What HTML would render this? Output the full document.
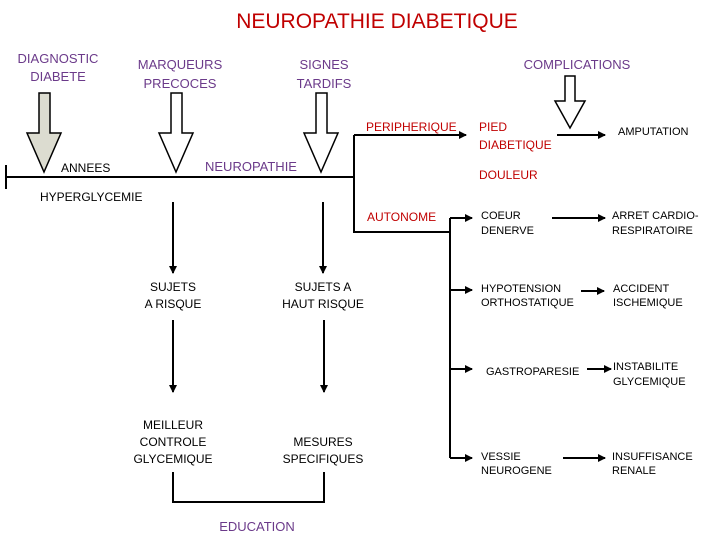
<!DOCTYPE html>
<html><head><meta charset="utf-8"><style>
body{margin:0;width:720px;height:540px;background:#fff;overflow:hidden}
svg text{font-family:"Liberation Sans",sans-serif}
</style></head><body>
<svg width="720" height="540" viewBox="0 0 720 540" xmlns="http://www.w3.org/2000/svg">
<defs><marker id="a" markerWidth="8" markerHeight="8" refX="7" refY="4" orient="auto" markerUnits="userSpaceOnUse"><path d="M0,0 L8,4 L0,8 z" fill="#000"/></marker></defs>
<text x="377" y="28" font-size="21" fill="#c00000" text-anchor="middle">NEUROPATHIE DIABETIQUE</text>
<g fill="#6b3a8a" font-size="13" text-anchor="middle">
<text x="58" y="63">DIAGNOSTIC</text><text x="58" y="81">DIABETE</text>
<text x="180" y="69">MARQUEURS</text><text x="180" y="88">PRECOCES</text>
<text x="324" y="69">SIGNES</text><text x="324" y="88">TARDIFS</text>
<text x="577" y="69">COMPLICATIONS</text>
<text x="251" y="171">NEUROPATHIE</text>
<text x="257" y="531">EDUCATION</text>
</g>
<g stroke="#000" stroke-width="1.5">
<path d="M39,93 H50 V133 H61 L44,172 L27,133 H39 Z" fill="#dcdcd0"/>
<path d="M171,93 H182 V133 H193 L176,172 L159,133 H171 Z" fill="#fff"/>
<path d="M316,93 H327 V133 H338 L321,172 L304,133 H316 Z" fill="#fff"/>
<path d="M565,76 H575 V101 H585 L570,128 L555,101 H565 Z" fill="#fff"/>
</g>
<g stroke="#000" stroke-width="2" fill="none">
<path d="M6,177 H354"/><path d="M6,165 V189"/>
<path d="M354,135 V232 H450"/>
<path d="M354,135 H466" marker-end="url(#a)"/>
<path d="M557,135 H605" marker-end="url(#a)"/>
<path d="M450,218 V458"/>
<path d="M450,218 H472" marker-end="url(#a)"/>
<path d="M450,290 H472" marker-end="url(#a)"/>
<path d="M450,369 H472" marker-end="url(#a)"/>
<path d="M450,458 H472" marker-end="url(#a)"/>
<path d="M552,218 H605" marker-end="url(#a)"/>
<path d="M581,291 H604" marker-end="url(#a)"/>
<path d="M587,369 H611" marker-end="url(#a)"/>
<path d="M563,458 H605" marker-end="url(#a)"/>
<path d="M173,202 V273" marker-end="url(#a)"/>
<path d="M173,320 V392" marker-end="url(#a)"/>
<path d="M323,202 V273" marker-end="url(#a)"/>
<path d="M324,320 V392" marker-end="url(#a)"/>
<path d="M173,472 V502 H324 V472"/>
</g>
<g fill="#c00000" font-size="12">
<text x="366" y="131">PERIPHERIQUE</text>
<text x="479" y="131">PIED</text><text x="479" y="149">DIABETIQUE</text>
<text x="479" y="179">DOULEUR</text>
<text x="367" y="221">AUTONOME</text>
</g>
<g fill="#000" font-size="11">
<text x="61" y="172" font-size="12">ANNEES</text>
<text x="40" y="201" font-size="12">HYPERGLYCEMIE</text>
<text x="618" y="135">AMPUTATION</text>
<text x="481" y="219">COEUR</text><text x="481" y="234">DENERVE</text>
<text x="612" y="219">ARRET CARDIO-</text><text x="612" y="234">RESPIRATOIRE</text>
<text x="481" y="292">HYPOTENSION</text><text x="481" y="306">ORTHOSTATIQUE</text>
<text x="613" y="292">ACCIDENT</text><text x="613" y="306">ISCHEMIQUE</text>
<text x="486" y="375">GASTROPARESIE</text>
<text x="613" y="370">INSTABILITE</text><text x="613" y="385">GLYCEMIQUE</text>
<text x="481" y="460">VESSIE</text><text x="481" y="474">NEUROGENE</text>
<text x="612" y="460">INSUFFISANCE</text><text x="612" y="474">RENALE</text>
</g>
<g fill="#000" font-size="12" text-anchor="middle">
<text x="173" y="291">SUJETS</text><text x="173" y="308">A  RISQUE</text>
<text x="323" y="291">SUJETS  A</text><text x="323" y="308">HAUT  RISQUE</text>
<text x="173" y="429">MEILLEUR</text><text x="173" y="446">CONTROLE</text><text x="173" y="463">GLYCEMIQUE</text>
<text x="323" y="446">MESURES</text><text x="323" y="463">SPECIFIQUES</text>
</g>
</svg>
</body></html>
